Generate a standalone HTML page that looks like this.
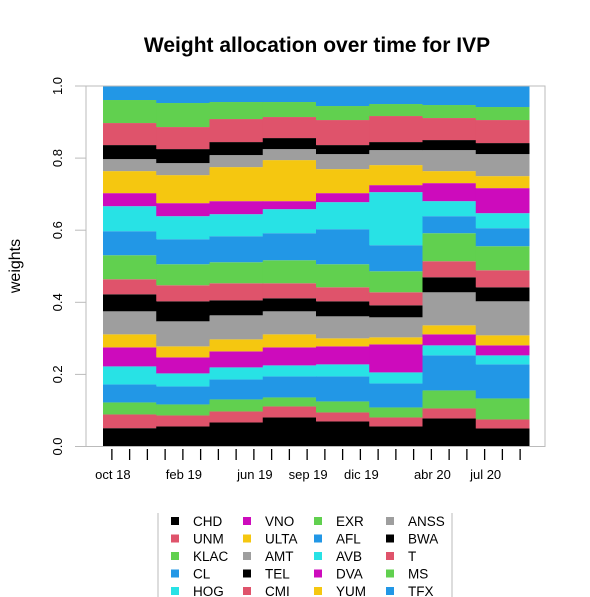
<!DOCTYPE html>
<html><head><meta charset="utf-8">
<style>
html,body{margin:0;padding:0;background:#fff;}
svg{display:block;font-family:"Liberation Sans",Arial,sans-serif;}
</style></head>
<body>
<svg id="chart" width="590" height="597" viewBox="0 0 590 597" xmlns="http://www.w3.org/2000/svg">
<rect width="590" height="597" fill="#fff"/>
<text x="317" y="52" text-anchor="middle" font-size="21" font-weight="bold">Weight allocation over time for IVP</text>
<text transform="translate(20,266) rotate(-90)" text-anchor="middle" font-size="16">weights</text>
<g id="bars"></g>
<rect x="86" y="86" width="459" height="360.5" fill="none" stroke="#bbb" stroke-width="1"/>
<g id="yaxis"></g>
<g id="xaxis"></g>
<g id="legend"></g>
</svg>
<script>
const series = ["CHD","UNM","KLAC","CL","HOG","VNO","ULTA","AMT","TEL","CMI","EXR","AFL","AVB","DVA","YUM","ANSS","BWA","T","MS","TFX"];
const colors = ["#000000","#DF536B","#61D04F","#2297E6","#28E2E5","#CD0BBC","#F5C710","#9E9E9E","#000000","#DF536B","#61D04F","#2297E6","#28E2E5","#CD0BBC","#F5C710","#9E9E9E","#000000","#DF536B","#61D04F","#2297E6"];
// relative weights per series (8 periods), normalized per period
const CHD  = [18.3,20,24,29,25,20,28,18];
const UNM  = [13.7,11,11,11,9,9,10,9];
const KLAC = [12,11,12,9,11,10,18,21];
const CL   = [18,18,20,21,25,24,35,34];
const HOG  = [18,13,12,11,12,11,10,9];
const VNO  = [19,16,16,18,18,28,11,10];
const ULTA = [13,11,12,13,8,7,9,10];
const AMT  = [23,25,24,23,22,20,33,34];
const TEL  = [17,20,15,13,15,12,15,14];
const CMI  = [15,16,17,15,14,13,16,17];
const EXR  = [24,21,21,23,23,21,28,24];
const AFL  = [24,25,26,27,35,26,17,18];
const AVB  = [25,23,22,24,27,53,15,15];
const DVA  = [13,13,13,8,9,7,18,25];
const YUM  = [22,28,34,41,24,20,12,12];
const ANSS = [12,12,12,11,15,15,21,22];
const BWA  = [14,14,13,11,9,8,10,11];
const T    = [22,22,23,21,25,26,22,23];
const MS   = [23,24,17,15,14,12,13,13];
const TFX  = [14,17,16,16,20,18,19,21];
const values = [CHD,UNM,KLAC,CL,HOG,VNO,ULTA,AMT,TEL,CMI,EXR,AFL,AVB,DVA,YUM,ANSS,BWA,T,MS,TFX];
const yTicks = [0,0.2,0.4,0.6,0.8,1.0];
const yTickLabels = ["0.0","0.2","0.4","0.6","0.8","1.0"];
const xLabels = ["oct 18","feb 19","jun 19","sep 19","dic 19","abr 20","jul 20"];
const xLabelTicks = [0,4,8,11,14,18,21];
const nTicks = 24;

const NS="http://www.w3.org/2000/svg";
const X0=103, X1=529, Y0=446.5, Y1=86;
const nBars = CHD.length;
const bw=(X1-X0)/nBars;
const xBar=i=>X0+i*bw;
const yS=v=>Y0-v*(Y0-Y1);
const tickX=k=>X0+bw/6+k*bw/3;
function el(tag,attrs,parent){const e=document.createElementNS(NS,tag);for(const k in attrs)e.setAttribute(k,attrs[k]);parent.appendChild(e);return e;}

const gb=document.getElementById('bars');
for(let i=0;i<nBars;i++){
  let tot=0; values.forEach(s=>tot+=s[i]);
  let cum=0;
  values.forEach((s,j)=>{
    const v=s[i]/tot;
    const r=el('rect',{x:xBar(i),y:yS(cum+v),width:bw+0.5,height:yS(cum)-yS(cum+v),fill:colors[j]},gb);
    
    
    cum+=v;
  });
}
const gy=document.getElementById('yaxis');
el('line',{x1:86,y1:yS(0),x2:86,y2:yS(1),stroke:'#bbb'},gy);
yTicks.forEach((t,i)=>{
  el('line',{x1:75,y1:yS(t),x2:86,y2:yS(t),stroke:'#bbb'},gy);
  const tx=el('text',{transform:`translate(62,${yS(t)}) rotate(-90)`,'text-anchor':'middle','font-size':13},gy);
  
  
  tx.textContent=yTickLabels[i];
});
const gx=document.getElementById('xaxis');
for(let k=0;k<nTicks;k++){
  el('line',{x1:tickX(k),y1:449,x2:tickX(k),y2:460,stroke:'#000','stroke-width':1.3},gx);
}
xLabels.forEach((l,i)=>{
  const tx=el('text',{x:tickX(xLabelTicks[i])+1,y:479,'text-anchor':'middle','font-size':13},gx);
  
  
  tx.textContent=l;
});
const gl=document.getElementById('legend');
el('line',{x1:158,y1:513,x2:158,y2:597,stroke:'#bbb'},gl);
el('line',{x1:452,y1:513,x2:452,y2:597,stroke:'#bbb'},gl);
const colSq=[171,243,314,386], colTx=[193,265,336,408];
series.forEach((s,j)=>{
  const c=Math.floor(j/5), r=j%5;
  const y=521+r*17.5;
  const sq=el('rect',{x:colSq[c],y:y-4,width:8,height:8,fill:colors[j]},gl);
  
  
  const tx=el('text',{x:colTx[c],y:y+5,'font-size':13.5},gl);
  
  
  tx.textContent=s;
});
</script>
</body></html>
